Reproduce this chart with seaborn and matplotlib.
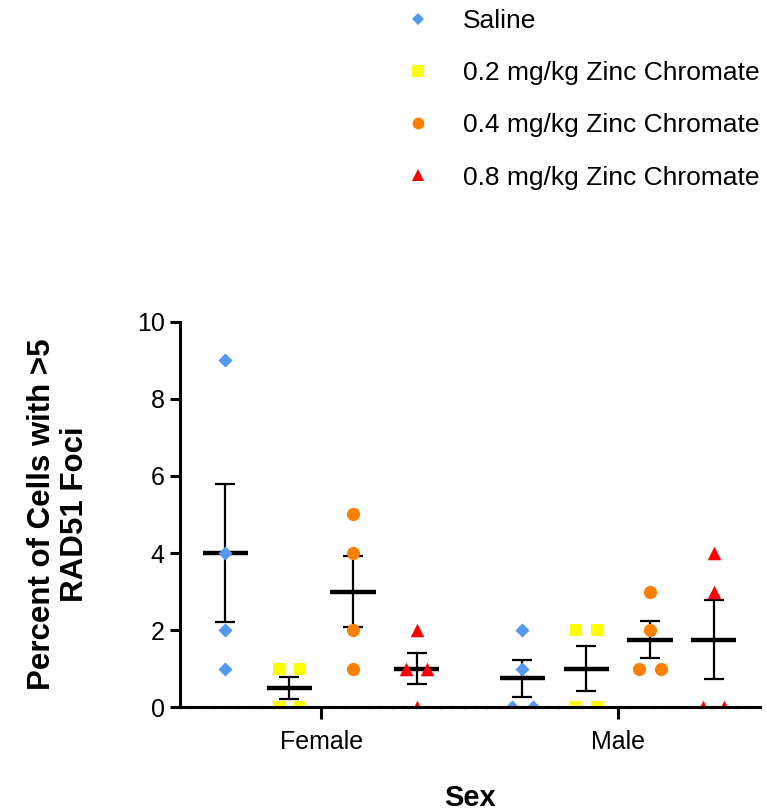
import numpy as np
import pandas as pd
import matplotlib
matplotlib.use("Agg")
import matplotlib.pyplot as plt
from matplotlib.lines import Line2D
from matplotlib.ticker import MultipleLocator
import seaborn as sns

# --- data (percent of cells with >5 RAD51 foci) ---
sexes = ["Female", "Male"]
treatments = ["Saline", "0.2 mg/kg Zinc Chromate",
              "0.4 mg/kg Zinc Chromate", "0.8 mg/kg Zinc Chromate"]

female_saline = [9, 4, 2, 1]
female_02 = [1, 1, 0, 0]
female_04 = [5, 4, 2, 1]
female_08 = [2, 1, 1, 0]
male_saline = [2, 1, 0, 0]
male_02 = [2, 2, 0, 0]
male_04 = [3, 2, 1, 1]
male_08 = [4, 3, 0, 0]

groups = {
    ("Female", "Saline"): female_saline,
    ("Female", "0.2 mg/kg Zinc Chromate"): female_02,
    ("Female", "0.4 mg/kg Zinc Chromate"): female_04,
    ("Female", "0.8 mg/kg Zinc Chromate"): female_08,
    ("Male", "Saline"): male_saline,
    ("Male", "0.2 mg/kg Zinc Chromate"): male_02,
    ("Male", "0.4 mg/kg Zinc Chromate"): male_04,
    ("Male", "0.8 mg/kg Zinc Chromate"): male_08,
}

colors = ["#5599EE", "#FFFF00", "#FF8000", "#FF0000"]
markers = ["D", "s", "o", "^"]
sizes = [52, 80, 90, 95]
legend_sizes = [6.5, 8, 8.5, 8.5]

hue_step = 0.215   # spacing of treatment columns within a sex
tie_step = 0.071   # horizontal spread of tied values

# --- long table with x positions on the categorical axis ---
rows = []
for (sex, trt), vals in groups.items():
    base = sexes.index(sex) + (treatments.index(trt) - 1.5) * hue_step
    vals = np.asarray(vals)
    for v in np.unique(vals):
        n = int((vals == v).sum())
        for k in range(n):
            rows.append({"sex": sex, "treatment": trt, "value": v,
                         "x": base + (k - (n - 1) / 2) * tie_step,
                         "center": base})
df = pd.DataFrame(rows)

summary = (df.groupby(["sex", "treatment", "center"], sort=False)["value"]
             .agg(["mean", "sem"]).reset_index())

# --- plot ---
sns.set_style("ticks")
plt.rcParams["font.family"] = ["Liberation Sans", "DejaVu Sans"]
for key in ["text.color", "axes.labelcolor", "xtick.color", "ytick.color",
            "axes.edgecolor"]:
    plt.rcParams[key] = "black"

fig = plt.figure(figsize=(7.67, 8.11), dpi=100)
ax = fig.add_axes([0.2347, 0.1282, 0.7562, 0.4748])

# mean +/- SEM
ax.errorbar(summary["center"], summary["mean"], yerr=summary["sem"],
            fmt="none", ecolor="black", elinewidth=1.6, capsize=7.5,
            capthick=1.6, zorder=2)
ax.hlines(summary["mean"], summary["center"] - 0.076,
          summary["center"] + 0.076, colors="black", lw=3.2, zorder=2)

for i, trt in enumerate(treatments):
    sub = df[df["treatment"] == trt]
    sns.scatterplot(data=sub, x="x", y="value", marker=markers[i],
                    color=colors[i], s=sizes[i], linewidth=0, ax=ax,
                    zorder=3, legend=False)

ax.set_xlim(-0.475, 1.478)
ax.set_ylim(0, 10)
ax.set_xticks(range(len(sexes)))
ax.set_xticklabels(sexes)
ax.set_yticks(np.arange(0, 11, 2))
ax.xaxis.set_minor_locator(MultipleLocator(0.04))

for side in ["top", "right"]:
    ax.spines[side].set_visible(False)
for side in ["left", "bottom"]:
    ax.spines[side].set_linewidth(2.2)
    ax.spines[side].set_zorder(5)

ax.tick_params(axis="y", which="major", direction="out", length=7,
               width=2.2, labelsize=18, pad=4)
ax.tick_params(axis="x", which="major", direction="out", length=8.5,
               width=2.2, labelsize=18, pad=8)
ax.tick_params(axis="x", which="minor", direction="inout", length=3,
               width=0.6, color="#999999")

ax.set_xlabel("Sex", fontsize=21, fontweight="bold")
ax.set_ylabel("Percent of Cells with >5\nRAD51 Foci", fontsize=22.5,
              fontweight="bold", linespacing=1.15)
ax.xaxis.set_label_coords(0.5, -0.20)
ax.yaxis.set_label_coords(-0.155, 0.5)

handles = [Line2D([], [], linestyle="none", marker=markers[i],
                  color=colors[i], markersize=legend_sizes[i],
                  markeredgewidth=0)
           for i in range(len(treatments))]
fig.legend(handles, treatments, loc="upper left",
           bbox_to_anchor=(405 / 767, 1 - 9 / 811), frameon=False,
           fontsize=19, handlelength=1.0, handletextpad=1.2,
           labelspacing=1.07, borderpad=0, borderaxespad=0)

fig.savefig("out.png", dpi=100)
